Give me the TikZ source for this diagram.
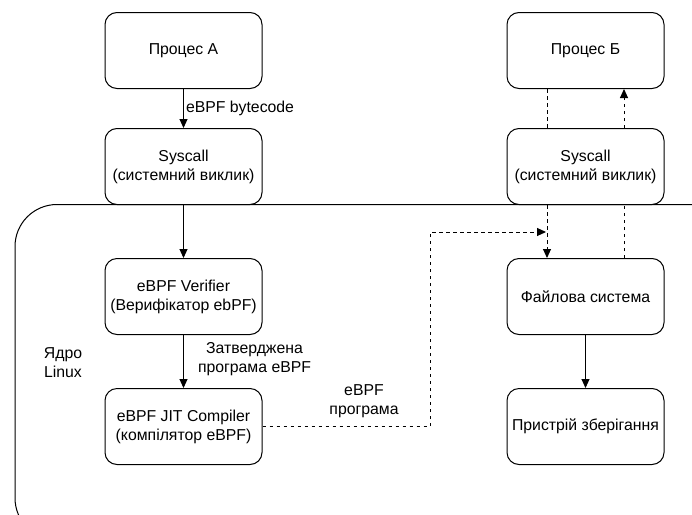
\documentclass[tikz,border=0pt]{standalone}
\usepackage{fontspec}
\setmainfont{Liberation Sans}
\usetikzlibrary{arrows.meta}
\begin{document}
\begin{tikzpicture}[x=1pt,y=-1pt,
  font=\fontsize{15.8}{19}\selectfont,
  box/.style={draw, line width=1pt, rounded corners=12pt, minimum width=157pt, minimum height=76pt, align=center, inner sep=2pt},
  arr/.style={line width=1pt, -{Triangle[length=9pt,width=8pt]}},
  dline/.style={line width=1pt, dash pattern=on 3.5pt off 3.5pt},
  darr/.style={dline, -{Triangle[length=9pt,width=8pt]}},
  lbl/.style={align=center, inner sep=2pt}]
\useasboundingbox (0,0) rectangle (692,514);
\begin{scope}
\clip (0,0) rectangle (692,514);
\draw[line width=1pt, rounded corners=42pt] (15,204.5) rectangle (740,540);
\end{scope}
\node[box] (pa) at (183.5,50.5) {Процес А};
\node[box] (sa) at (183.5,166.5) {Syscall\\(системний виклик)};
\node[box] (ver) at (183.5,296.5) {eBPF Verifier\\(Верифікатор ebPF)};
\node[box] (jit) at (183.5,426.5) {eBPF JIT Compiler\\(компілятор eBPF)};
\node[box] (pb) at (585.5,50.5) {Процес Б};
\node[box] (sb) at (585.5,166.5) {Syscall\\(системний виклик)};
\node[box] (fs) at (585.5,296.5) {Файлова система};
\node[box] (dev) at (585.5,426.5) {Пристрій зберігання};
\node[lbl] (kern) at (63,363) {Ядро\\Linux};
\coordinate (k1) at (430,232);
\coordinate (k2) at (546,232);
\draw[arr] (pa) -- (sa) node[midway, right, lbl] {eBPF bytecode};
\draw[arr] (sa) -- (ver);
\draw[arr] (ver) -- (jit) node[pos=0.45, right, lbl, xshift=12pt] {Затверджена\\програма eBPF};
\draw[darr] (jit.east) -| (k1) -- (k2);
\node[lbl] (prog) at (364,401) {eBPF\\програма};
\draw[dline] ([xshift=-38.5pt]pb.south) -- ([xshift=-38.5pt]sb.north);
\draw[darr] ([xshift=38.5pt]sb.north) -- ([xshift=38.5pt]pb.south);
\draw[darr] ([xshift=-38.5pt]sb.south) -- ([xshift=-38.5pt]fs.north);
\draw[dline] ([xshift=38.5pt]fs.north) -- ([xshift=38.5pt]sb.south);
\draw[arr] (fs) -- (dev);
\end{tikzpicture}
\end{document}
